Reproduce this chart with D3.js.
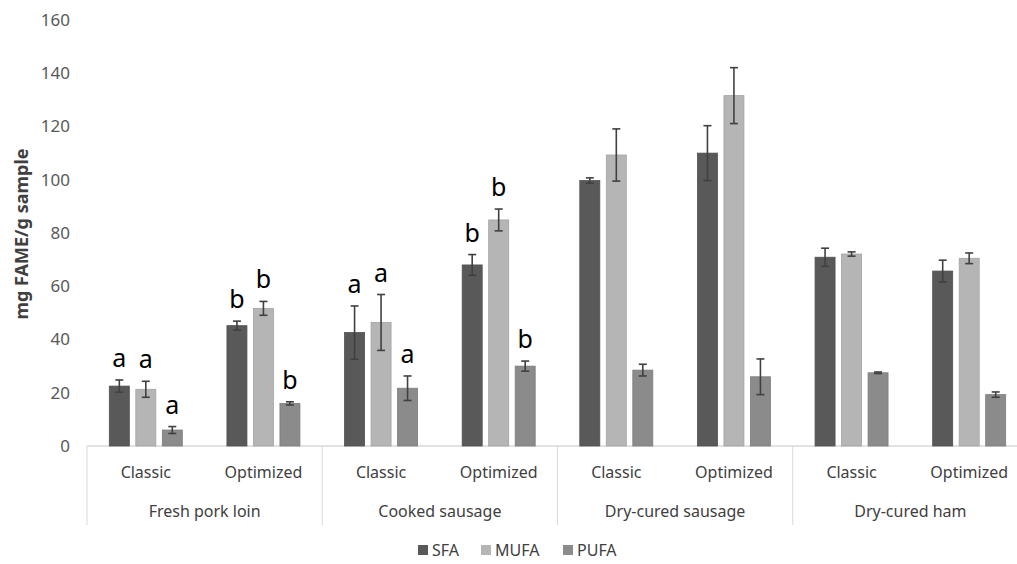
<!DOCTYPE html>
<html><head><meta charset="utf-8">
<script src="https://cdn.jsdelivr.net/npm/d3@7"></script>
<style>body{margin:0;background:#fff}svg{display:block}text{font-family:"Noto Sans","Open Sans",sans-serif}</style>
</head><body><svg id="c" width="1017" height="564"></svg>
<script>
const groups = ["Fresh pork loin","Cooked sausage","Dry-cured sausage","Dry-cured ham"];
const subgroups = ["Classic","Optimized"];
const series = ["SFA","MUFA","PUFA"];
const colors = ["#595959","#b5b5b5","#8b8b8b"];
// values per [group][subgroup] -> [SFA, MUFA, PUFA]
const values = [
  [[22.5,21.3,6.0],[45.2,51.7,16.0]],
  [[42.6,46.4,21.7],[68.0,84.9,30.0]],
  [[99.7,109.3,28.5],[110.0,131.6,26.0]],
  [[70.9,72.1,27.5],[65.7,70.5,19.3]]
];
const errors = [
  [[2.3,3.0,1.3],[1.7,2.6,0.6]],
  [[10.0,10.5,4.6],[3.9,4.1,1.9]],
  [[1.0,9.8,2.2],[10.3,10.5,6.7]],
  [[3.4,0.8,0.3],[4.1,2.0,1.0]]
];
const letters = [
  [["a","a","a"],["b","b","b"]],
  [["a","a","a"],["b","b","b"]],
  [["","",""],["","",""]],
  [["","",""],["","",""]]
];
const yTicks = [0,20,40,60,80,100,120,140,160];

const svg = d3.select("#c");
const y = d3.scaleLinear().domain([0,160]).range([446,20]);
const xg = d3.scaleBand().domain(groups).range([87,1028]);
const xs = d3.scaleBand().domain(subgroups).range([0,xg.bandwidth()]);
const half = xs.bandwidth()/2;
const xb = d3.scaleBand().domain(series).range([half-36.5, half+36.5]).paddingInner(0.245);

// y axis labels
const ya = svg.append("g").attr("transform","translate(70,0)")
  .call(d3.axisLeft(y).tickValues(yTicks).tickSize(0).tickPadding(0));
ya.select(".domain").remove();
ya.selectAll("text").attr("fill","#595959").style("font-size","17px").style("font-family","'Noto Sans',sans-serif");

svg.append("text").attr("transform","translate(28,234) rotate(-90)")
  .attr("text-anchor","middle").attr("font-weight","bold").attr("font-size","18px").attr("fill","#404040")
  .text("mg FAME/g sample");

// x axis line and dividers
svg.append("line").attr("x1",87).attr("x2",1017).attr("y1",y(0)).attr("y2",y(0)).attr("stroke","#d9d9d9").attr("stroke-width",1.5);
const bounds = groups.map(g=>xg(g)).concat([xg.range()[1]]);
svg.selectAll("line.div").data(bounds).join("line").attr("class","div")
  .attr("x1",d=>d).attr("x2",d=>d).attr("y1",y(0)).attr("y2",525).attr("stroke","#d9d9d9").attr("stroke-width",1);

// bars
const rows = [];
groups.forEach((g,gi)=>subgroups.forEach((s,si)=>series.forEach((k,ki)=>{
  rows.push({g,s,k,ki,v:values[gi][si][ki],e:errors[gi][si][ki],l:letters[gi][si][ki]});
})));
const bx = d => xg(d.g)+xs(d.s)+xb(d.k);
svg.selectAll("rect.bar").data(rows).join("rect").attr("class","bar")
  .attr("x",bx).attr("width",xb.bandwidth())
  .attr("y",d=>y(d.v)).attr("height",d=>y(0)-y(d.v))
  .attr("fill",d=>colors[d.ki]).attr("stroke",d=>d3.color(colors[d.ki]).darker(0.3)).attr("stroke-width",0.8);

// error bars
const eb = svg.append("g").attr("stroke","#404040").attr("stroke-width",1.6);
rows.forEach(d=>{
  const cx = bx(d)+xb.bandwidth()/2;
  eb.append("line").attr("x1",cx).attr("x2",cx).attr("y1",y(d.v+d.e)).attr("y2",y(d.v-d.e));
  eb.append("line").attr("x1",cx-4).attr("x2",cx+4).attr("y1",y(d.v+d.e)).attr("y2",y(d.v+d.e));
  eb.append("line").attr("x1",cx-4).attr("x2",cx+4).attr("y1",y(d.v-d.e)).attr("y2",y(d.v-d.e));
});

// letters
svg.selectAll("text.let").data(rows.filter(d=>d.l)).join("text").attr("class","let")
  .attr("x",d=>bx(d)+xb.bandwidth()/2).attr("y",d=>y(d.v+d.e)-13)
  .attr("text-anchor","middle").attr("font-size","25px").attr("fill","#000").text(d=>d.l);

// sub labels
groups.forEach(g=>subgroups.forEach(s=>{
  svg.append("text").attr("x",xg(g)+xs(s)+half).attr("y",478).attr("text-anchor","middle")
    .attr("font-size","16px").attr("fill","#404040").text(s);
}));
groups.forEach(g=>{
  svg.append("text").attr("x",xg(g)+xg.bandwidth()/2).attr("y",517).attr("text-anchor","middle")
    .attr("font-size","16px").attr("fill","#404040").text(g);
});

// legend
const legX = [418,481,563];
series.forEach((k,i)=>{
  svg.append("rect").attr("x",legX[i]).attr("y",545).attr("width",10).attr("height",10).attr("fill",colors[i]);
  svg.append("text").attr("x",legX[i]+14).attr("y",556).attr("font-size","16px").attr("fill","#404040").text(k);
});
</script></body></html>
